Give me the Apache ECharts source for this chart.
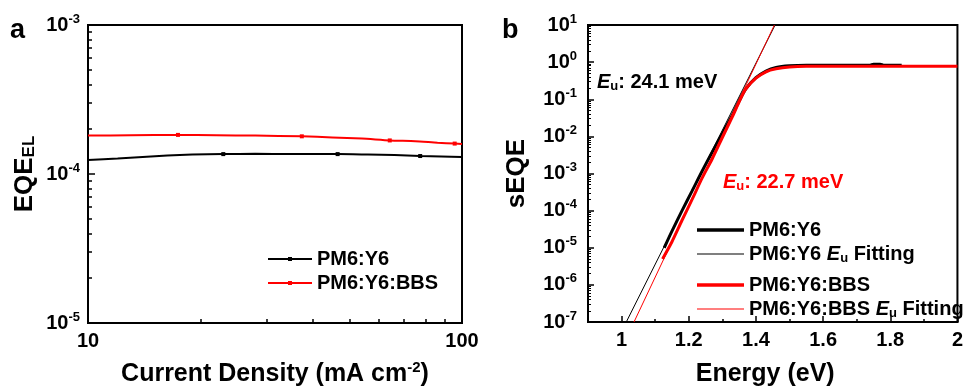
<!DOCTYPE html>
<html><head><meta charset="utf-8">
<script src="https://cdn.jsdelivr.net/npm/echarts@6/dist/echarts.min.js"></script>
<style>html,body{margin:0;padding:0;background:#fff}#c{width:966px;height:392px}</style>
</head><body><div id="c"></div>
<script>
// ---------- Panel a data: EQE_EL vs current density ----------
const jBlack   = [10, 12, 14, 16.3, 19, 23.0, 28, 35, 46.5, 56, 66, 77.3, 88, 100];
const eqeBlack = [1.24e-4, 1.27e-4, 1.30e-4, 1.33e-4, 1.35e-4, 1.36e-4, 1.365e-4, 1.36e-4, 1.36e-4, 1.35e-4, 1.34e-4, 1.32e-4, 1.31e-4, 1.30e-4];
const blackMarkJ = [23.0, 46.5, 77.3];
const jRed   = [10, 13, 17.4, 22, 28, 37.3, 45, 54, 64.1, 75, 86, 95.6, 100];
const eqeRed = [1.81e-4, 1.82e-4, 1.83e-4, 1.82e-4, 1.81e-4, 1.79e-4, 1.76e-4, 1.73e-4, 1.68e-4, 1.66e-4, 1.62e-4, 1.60e-4, 1.59e-4];
const redMarkJ = [17.4, 37.3, 64.1, 95.6];

// ---------- Panel b data: sEQE vs energy ----------
const eBlack = [1.127, 1.15, 1.18, 1.21, 1.24, 1.27, 1.30, 1.33, 1.35, 1.37, 1.40, 1.43, 1.46, 1.50, 1.55, 1.60, 1.65, 1.70, 1.74, 1.75, 1.77, 1.78, 1.834];
const sBlack = [1.0e-5, 2.8e-5, 1.0e-4, 3.4e-4, 1.17e-3, 3.8e-3, 1.2e-2, 3.8e-2, 8.9e-2, 0.19, 0.38, 0.575, 0.72, 0.80, 0.83, 0.83, 0.83, 0.83, 0.83, 0.88, 0.88, 0.83, 0.83];
const eRed = [1.122, 1.15, 1.18, 1.21, 1.24, 1.27, 1.30, 1.33, 1.35, 1.37, 1.40, 1.43, 1.46, 1.50, 1.55, 1.60, 1.70, 1.80, 1.90, 2.0];
const sRed = [5.0e-6, 1.45e-5, 5.5e-5, 2.0e-4, 7.6e-4, 2.5e-3, 9.3e-3, 3.4e-2, 8.5e-2, 0.19, 0.37, 0.55, 0.66, 0.74, 0.77, 0.77, 0.77, 0.77, 0.77, 0.77];
const fitBlackE = [1.014, 1.457];
const fitBlackS = [1e-7, 10];
const fitRedE = [1.037, 1.455];
const fitRedS = [1e-7, 10];
const bXLabels = [1, 1.2, 1.4, 1.6, 1.8, 2];
const bXMinor = [0.9, 1.1, 1.3, 1.5, 1.7, 1.9];
const eUBlack = '24.1 meV';
const eURed = '22.7 meV';

const FONT = 'Liberation Sans';
const RED = '#ff0000';

function decadeMinors(lo, hi) {
  const out = [];
  for (let n = lo; n < hi; n++) for (let k = 2; k <= 9; k++) out.push(n + Math.log10(k));
  return out;
}
function powLabel(v) { return '{b|10}{s|' + Math.round(Math.log10(v)) + '}'; }
const tickRich = {
  b: { fontFamily: FONT, fontWeight: 'bold', fontSize: 20, color: '#000' },
  s: { fontFamily: FONT, fontWeight: 'bold', fontSize: 13, color: '#000', padding: [0, 0, 12, 0] }
};
const subRich = {
  t: { fontFamily: FONT, fontWeight: 'bold', fontSize: 20, color: '#000' },
  i: { fontFamily: FONT, fontWeight: 'bold', fontStyle: 'italic', fontSize: 20, color: '#000' },
  u: { fontFamily: FONT, fontWeight: 'bold', fontSize: 13, color: '#000', padding: [8, 0, 0, 0] }
};
function graphicRich(col) {
  return {
    t: { fontFamily: FONT, fontWeight: 'bold', fontSize: 20, fill: col },
    i: { fontFamily: FONT, fontWeight: 'bold', fontStyle: 'italic', fontSize: 20, fill: col },
    u: { fontFamily: FONT, fontWeight: 'bold', fontSize: 13, fill: col, padding: [8, 0, 0, 0] }
  };
}
function pairs(xs, ys) { return xs.map((x, i) => [x, ys[i]]); }
function marked(xs, ys, marks) {
  return xs.map((x, i) => marks.indexOf(x) >= 0 ? { value: [x, ys[i]] } : { value: [x, ys[i]], symbol: 'none' });
}

const legendText = {
  'a-PM6:Y6': 'PM6:Y6',
  'a-PM6:Y6:BBS': 'PM6:Y6:BBS',
  'b-PM6:Y6': 'PM6:Y6',
  'b-PM6:Y6-fit': 'PM6:Y6 {i|E}{u|u} Fitting',
  'b-PM6:Y6:BBS': 'PM6:Y6:BBS',
  'b-PM6:Y6:BBS-fit': 'PM6:Y6:BBS {i|E}{u|u} Fitting'
};
const legendBase = {
  orient: 'vertical', selectedMode: false, itemGap: 4, itemHeight: 20,
  formatter: n => legendText[n],
  textStyle: { fontFamily: FONT, fontWeight: 'bold', fontSize: 20, color: '#000', lineHeight: 20, rich: subRich }
};
const ICON_A = 'path://M0,9H20V8H24V9H44V11H24V12H20V11H0Z';
const ICON_THICK = 'path://M0,0H47V3.5H0Z';
const ICON_THIN = 'path://M0,0H47V1.2H0Z';

const axisLineStyle = { show: true, onZero: false, lineStyle: { color: '#000', width: 2 } };
const hiddenOverlay = { axisLine: { show: false, onZero: false }, axisLabel: { show: false }, splitLine: { show: false } };

const chart = echarts.init(document.getElementById('c'), null, { renderer: 'canvas' });
chart.setOption({
  animation: false,
  backgroundColor: '#fff',
  grid: [
    { left: 88, top: 25, right: 504, bottom: 65, show: true, borderColor: '#000', borderWidth: 2, containLabel: false },
    { left: 588, top: 25, right: 5, bottom: 65, show: true, borderColor: '#000', borderWidth: 2, containLabel: false }
  ],
  xAxis: [
    { type: 'log', gridIndex: 0, logBase: 10, min: 10, max: 100, position: 'bottom',
      axisLine: axisLineStyle, splitLine: { show: false },
      axisTick: { show: false },
      axisLabel: { margin: 8, fontFamily: FONT, fontWeight: 'bold', fontSize: 20, color: '#000' },
      name: '{t|Current Density (mA cm}{s|-2}{t|)}', nameLocation: 'middle', nameGap: 37,
      nameTextStyle: { rich: {
        t: { fontFamily: FONT, fontWeight: 'bold', fontSize: 25, color: '#000' },
        s: { fontFamily: FONT, fontWeight: 'bold', fontSize: 15, color: '#000', padding: [0, 0, 14, 0] } } } },
    Object.assign({ type: 'value', gridIndex: 0, min: 1, max: 2, position: 'bottom',
      axisTick: { show: true, inside: true, length: 4, lineStyle: { color: '#000', width: 1.5 },
        customValues: decadeMinors(1, 2) } }, hiddenOverlay),
    { type: 'value', gridIndex: 1, min: 0.9, max: 2.0, position: 'bottom',
      axisLine: axisLineStyle, splitLine: { show: false },
      axisTick: { show: true, inside: true, length: 6, lineStyle: { color: '#000', width: 1.5 }, customValues: bXLabels },
      axisLabel: { margin: 8, fontFamily: FONT, fontWeight: 'bold', fontSize: 20, color: '#000', customValues: bXLabels },
      name: 'Energy (eV)', nameLocation: 'middle', nameGap: 40,
      nameTextStyle: { fontFamily: FONT, fontWeight: 'bold', fontSize: 25, color: '#000', padding: [0, 15, 0, 0] } },
    Object.assign({ type: 'value', gridIndex: 1, min: 0.9, max: 2.0, position: 'bottom',
      axisTick: { show: true, inside: true, length: 3, lineStyle: { color: '#000', width: 1.5 }, customValues: bXMinor } }, hiddenOverlay)
  ],
  yAxis: [
    { type: 'log', gridIndex: 0, logBase: 10, min: 1e-5, max: 1e-3, position: 'left',
      axisLine: axisLineStyle, splitLine: { show: false },
      axisTick: { show: true, inside: true, length: 7, lineStyle: { color: '#000', width: 1.5 } },
      axisLabel: { margin: 8, formatter: powLabel, rich: tickRich },
      name: '{t|EQE}{s|EL}', nameLocation: 'middle', nameGap: 50,
      nameTextStyle: { rich: {
        t: { fontFamily: FONT, fontWeight: 'bold', fontSize: 26, color: '#000' },
        s: { fontFamily: FONT, fontWeight: 'bold', fontSize: 17, color: '#000', padding: [10, 0, 0, 0] } } } },
    Object.assign({ type: 'value', gridIndex: 0, min: -5, max: -3, position: 'left',
      axisTick: { show: true, inside: true, length: 4, lineStyle: { color: '#000', width: 1.5 },
        customValues: decadeMinors(-5, -3) } }, hiddenOverlay),
    { type: 'log', gridIndex: 1, logBase: 10, min: 1e-7, max: 10, splitNumber: 8, position: 'left',
      axisLine: axisLineStyle, splitLine: { show: false },
      axisTick: { show: true, inside: true, length: 6, lineStyle: { color: '#000', width: 1.5 } },
      axisLabel: { margin: 11, formatter: powLabel, rich: tickRich },
      name: 'sEQE', nameLocation: 'middle', nameGap: 58,
      nameTextStyle: { fontFamily: FONT, fontWeight: 'bold', fontSize: 26, color: '#000' } },
    Object.assign({ type: 'value', gridIndex: 1, min: -7, max: 1, position: 'left',
      axisTick: { show: true, inside: true, length: 3, lineStyle: { color: '#000', width: 1 },
        customValues: decadeMinors(-7, 1) } }, hiddenOverlay)
  ],
  legend: [
    Object.assign({ left: 263, top: 244, itemWidth: 44,
      data: [{ name: 'a-PM6:Y6', icon: ICON_A }, { name: 'a-PM6:Y6:BBS', icon: ICON_A }] }, legendBase),
    Object.assign({ left: 692, top: 215, itemWidth: 47,
      data: [{ name: 'b-PM6:Y6', icon: ICON_THICK }, { name: 'b-PM6:Y6-fit', icon: ICON_THIN }] }, legendBase),
    Object.assign({ left: 692, top: 270, itemWidth: 47,
      data: [{ name: 'b-PM6:Y6:BBS', icon: ICON_THICK }, { name: 'b-PM6:Y6:BBS-fit', icon: ICON_THIN }] }, legendBase)
  ],
  series: [
    { name: 'a-PM6:Y6', type: 'line', xAxisIndex: 0, yAxisIndex: 0, color: '#000', smooth: 0.2,
      symbol: 'rect', symbolSize: 4, showAllSymbol: true, lineStyle: { width: 2 },
      data: marked(jBlack, eqeBlack, blackMarkJ) },
    { name: 'a-PM6:Y6:BBS', type: 'line', xAxisIndex: 0, yAxisIndex: 0, color: RED, smooth: 0.2,
      symbol: 'rect', symbolSize: 4, showAllSymbol: true, lineStyle: { width: 2 },
      data: marked(jRed, eqeRed, redMarkJ) },
    { name: 'b-PM6:Y6', type: 'line', xAxisIndex: 2, yAxisIndex: 2, color: '#000', smooth: 0.3,
      symbol: 'none', lineStyle: { width: 3 }, data: pairs(eBlack, sBlack) },
    { name: 'b-PM6:Y6-fit', type: 'line', xAxisIndex: 2, yAxisIndex: 2, color: '#000',
      symbol: 'none', lineStyle: { width: 1 }, data: pairs(fitBlackE, fitBlackS) },
    { name: 'b-PM6:Y6:BBS', type: 'line', xAxisIndex: 2, yAxisIndex: 2, color: RED, smooth: 0.3,
      symbol: 'none', lineStyle: { width: 3 }, data: pairs(eRed, sRed) },
    { name: 'b-PM6:Y6:BBS-fit', type: 'line', xAxisIndex: 2, yAxisIndex: 2, color: RED,
      symbol: 'none', lineStyle: { width: 1 }, data: pairs(fitRedE, fitRedS) }
  ],
  graphic: [
    { type: 'text', x: 10, y: 31, style: { text: 'a', fontFamily: FONT, fontWeight: 'bold', fontSize: 27, fill: '#000', verticalAlign: 'middle' } },
    { type: 'text', x: 502, y: 31, style: { text: 'b', fontFamily: FONT, fontWeight: 'bold', fontSize: 27, fill: '#000', verticalAlign: 'middle' } },
    { type: 'text', x: 597, y: 82, style: { text: '{i|E}{u|u}{t|: ' + eUBlack + '}', verticalAlign: 'middle', rich: graphicRich('#000') } },
    { type: 'text', x: 723, y: 182, style: { text: '{i|E}{u|u}{t|: ' + eURed + '}', verticalAlign: 'middle', rich: graphicRich(RED) } }
  ]
});
</script>
</body></html>
